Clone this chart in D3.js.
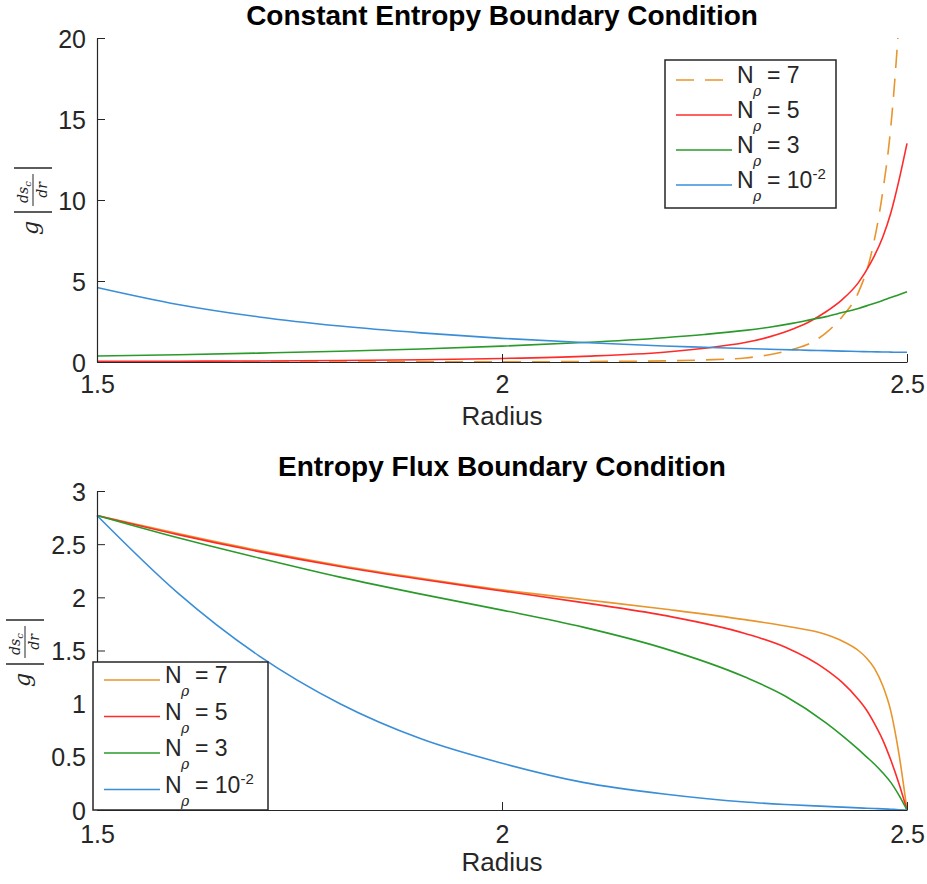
<!DOCTYPE html>
<html>
<head>
<meta charset="utf-8">
<script src="https://cdn.jsdelivr.net/npm/d3@7"></script>
<style>
  html, body { margin: 0; padding: 0; background: #fff; }
  svg { display: block; font-family: "Liberation Sans", Arial, Helvetica, sans-serif; }
</style>
</head>
<body>
<svg id="fig" width="927" height="884"></svg>
<script>
// ---- Constant entropy boundary condition ----
const radiusTop = [1.5, 1.6, 1.7, 1.8, 1.9, 2.0, 2.1, 2.2, 2.25, 2.3, 2.33, 2.36, 2.38, 2.4, 2.42, 2.44, 2.455, 2.47, 2.48, 2.49, 2.5];
const topN7   = [0.00, 0.00, 0.00, 0.00, 0.01, 0.01, 0.03, 0.07, 0.13, 0.25, 0.45, 0.80, 1.15, 1.80, 2.80, 4.30, 6.50, 10.5, 14.5, 21.0, 30.0];
const topN5   = [0.04, 0.05, 0.06, 0.09, 0.14, 0.22, 0.35, 0.60, 0.85, 1.20, 1.55, 2.05, 2.50, 3.10, 3.85, 4.90, 6.10, 7.70, 9.20, 11.2, 13.5];
const topN3   = [0.37, 0.45, 0.55, 0.66, 0.80, 0.98, 1.20, 1.50, 1.70, 1.95, 2.15, 2.40, 2.60, 2.80, 3.05, 3.30, 3.55, 3.80, 3.98, 4.15, 4.34];
const topN001 = [4.60, 3.55, 2.78, 2.22, 1.80, 1.46, 1.20, 0.99, 0.91, 0.83, 0.79, 0.75, 0.72, 0.70, 0.67, 0.65, 0.63, 0.62, 0.61, 0.60, 0.60];

// ---- Entropy flux boundary condition ----
const radiusBot = [1.5, 1.6, 1.7, 1.8, 1.9, 2.0, 2.1, 2.2, 2.3, 2.35, 2.4, 2.42, 2.44, 2.45, 2.46, 2.47, 2.48, 2.49, 2.5];
const botN7   = [2.77, 2.60, 2.44, 2.30, 2.18, 2.07, 1.98, 1.89, 1.79, 1.73, 1.65, 1.59, 1.50, 1.43, 1.33, 1.17, 0.93, 0.53, 0.0];
const botN5   = [2.77, 2.59, 2.43, 2.29, 2.17, 2.06, 1.95, 1.83, 1.66, 1.53, 1.32, 1.20, 1.04, 0.94, 0.81, 0.66, 0.47, 0.25, 0.0];
const botN3   = [2.77, 2.56, 2.37, 2.19, 2.03, 1.88, 1.72, 1.52, 1.25, 1.07, 0.82, 0.70, 0.57, 0.50, 0.43, 0.35, 0.26, 0.14, 0.0];
const botN001 = [2.77, 2.04, 1.45, 1.00, 0.67, 0.44, 0.26, 0.15, 0.075, 0.052, 0.034, 0.027, 0.020, 0.017, 0.014, 0.011, 0.007, 0.003, 0.0];

const xTicks = [1.5, 2, 2.5];
const yTicksTop = [0, 5, 10, 15, 20];
const yTicksBot = [0, 0.5, 1, 1.5, 2, 2.5, 3];

const seriesNames = ["7", "5", "3", "10"];
const colors = { n7: "#E8952C", n5: "#FF2B2B", n3: "#2A9A2A", n001: "#3A8ED8" };
const ink = "#262626";

const svg = d3.select("#fig");

function drawPanel(cfg) {
  const g = svg.append("g");
  const x = d3.scaleLinear().domain([1.5, 2.5]).range([97, 907]);
  const y = d3.scaleLinear().domain(cfg.yDomain).range([cfg.bottom, cfg.top]);

  const clipId = "clip" + cfg.id;
  svg.append("clipPath").attr("id", clipId)
    .append("rect").attr("x", 96).attr("y", cfg.top).attr("width", 813).attr("height", cfg.bottom - cfg.top + 1);

  // data lines
  const line = d3.line().x(d => x(d[0])).y(d => y(d[1])).curve(d3.curveMonotoneX);
  const plot = g.append("g").attr("clip-path", `url(#${clipId})`);
  cfg.series.forEach(s => {
    plot.append("path")
      .datum(cfg.radius.map((r, i) => [r, s.values[i]]))
      .attr("d", line)
      .attr("fill", "none")
      .attr("stroke", s.color)
      .attr("stroke-width", 1.6)
      .attr("stroke-dasharray", s.dash || null);
  });

  // axes (inward ticks, no box)
  const xAxis = d3.axisBottom(x).tickValues(xTicks).tickSizeInner(-8).tickSizeOuter(0)
    .tickFormat(d3.format("~g"));
  const gx = g.append("g").attr("transform", `translate(0,${cfg.bottom})`).call(xAxis);
  gx.select(".domain").attr("stroke", ink).attr("stroke-width", 1.2);
  gx.selectAll(".tick line").attr("stroke", ink);
  gx.selectAll(".tick text").attr("fill", ink).attr("font-size", 25)
    .attr("y", cfg.xLabelDy).attr("dy", 0);

  const yAxis = d3.axisLeft(y).tickValues(cfg.yTicks).tickSizeInner(-8).tickSizeOuter(0)
    .tickFormat(d3.format("~g"));
  const gy = g.append("g").attr("transform", "translate(97,0)").call(yAxis);
  gy.select(".domain").attr("stroke", ink).attr("stroke-width", 1.2);
  gy.selectAll(".tick line").attr("stroke", ink);
  gy.selectAll(".tick text").attr("fill", ink).attr("font-size", 25).attr("x", -11).attr("dy", "0.36em");
  g.selectAll(".tick text").attr("font-family", "'Liberation Sans', Arial, sans-serif");

  // title and x label
  g.append("text").attr("x", 502).attr("y", cfg.titleY).attr("text-anchor", "middle")
    .attr("font-size", 28).attr("font-weight", "bold").attr("fill", "#000").text(cfg.title);
  g.append("text").attr("x", 502).attr("y", cfg.radiusY).attr("text-anchor", "middle")
    .attr("font-size", 26).attr("fill", ink).text("Radius");

  // y label: g |ds_c / dr|
  const yl = g.append("g").attr("transform", `translate(${cfg.ylx},${cfg.yly}) rotate(-90)`)
    .attr("fill", ink).attr("font-family", "'DejaVu Serif', 'Liberation Serif', serif").attr("font-style", "italic");
  yl.append("text").attr("x", -38).attr("y", 5).attr("font-size", 22).attr("text-anchor", "middle").text("g");
  [-22, 22].forEach(b => yl.append("line").attr("x1", b).attr("x2", b).attr("y1", -19).attr("y2", 19)
    .attr("stroke", ink).attr("stroke-width", 1.3));
  yl.append("line").attr("x1", -16).attr("x2", 16).attr("y1", 0).attr("y2", 0).attr("stroke", ink).attr("stroke-width", 1);
  const num = yl.append("text").attr("x", -2).attr("y", -5).attr("font-size", 14).attr("text-anchor", "middle");
  num.append("tspan").text("ds");
  num.append("tspan").attr("font-size", 10).attr("dy", 3).text("c");
  yl.append("text").attr("x", 0).attr("y", 14).attr("font-size", 14).attr("text-anchor", "middle").text("dr");

  // legend
  const L = cfg.legend;
  const lg = g.append("g");
  lg.append("rect").attr("x", L.x).attr("y", L.y).attr("width", L.w).attr("height", L.h)
    .attr("fill", "#fff").attr("stroke", ink).attr("stroke-width", 1.5);
  cfg.series.forEach((s, i) => {
    const base = L.y + L.first + i * L.step;
    lg.append("line").attr("x1", L.x + 11).attr("x2", L.x + 67)
      .attr("y1", base - 3).attr("y2", base - 3)
      .attr("stroke", s.color).attr("stroke-width", 1.6).attr("stroke-dasharray", s.dash || null);
    const tx = L.x + 72;
    lg.append("text").attr("x", tx).attr("y", base).attr("font-size", 23).attr("fill", ink).text("N");
    lg.append("text").attr("x", tx + 16).attr("y", base + 13).attr("font-size", 14)
      .attr("font-style", "italic").attr("font-family", "'DejaVu Serif', serif").attr("fill", ink).text("ρ");
    const eq = lg.append("text").attr("x", tx + 30).attr("y", base).attr("font-size", 23).attr("fill", ink);
    eq.append("tspan").text("= " + seriesNames[i]);
    if (seriesNames[i] === "10") {
      eq.append("tspan").attr("font-size", 15).attr("dy", -9).text("-2");
    }
  });
}

drawPanel({
  id: "top", top: 38, bottom: 362, yDomain: [0, 20], yTicks: yTicksTop,
  radius: radiusTop,
  series: [
    { values: topN7, color: colors.n7, dash: "18,11" },
    { values: topN5, color: colors.n5 },
    { values: topN3, color: colors.n3 },
    { values: topN001, color: colors.n001 }
  ],
  title: "Constant Entropy Boundary Condition", titleY: 25, radiusY: 425, xLabelDy: 31,
  ylx: 33, yly: 190,
  legend: { x: 665, y: 60, w: 171, h: 148, first: 23, step: 35 }
});

drawPanel({
  id: "bot", top: 491, bottom: 810, yDomain: [0, 3], yTicks: yTicksBot,
  radius: radiusBot,
  series: [
    { values: botN7, color: colors.n7 },
    { values: botN5, color: colors.n5 },
    { values: botN3, color: colors.n3 },
    { values: botN001, color: colors.n001 }
  ],
  title: "Entropy Flux Boundary Condition", titleY: 476, radiusY: 871, xLabelDy: 33,
  ylx: 25, yly: 642,
  legend: { x: 93, y: 662, w: 175, h: 148, first: 21, step: 36.5 }
});
</script>
</body>
</html>
